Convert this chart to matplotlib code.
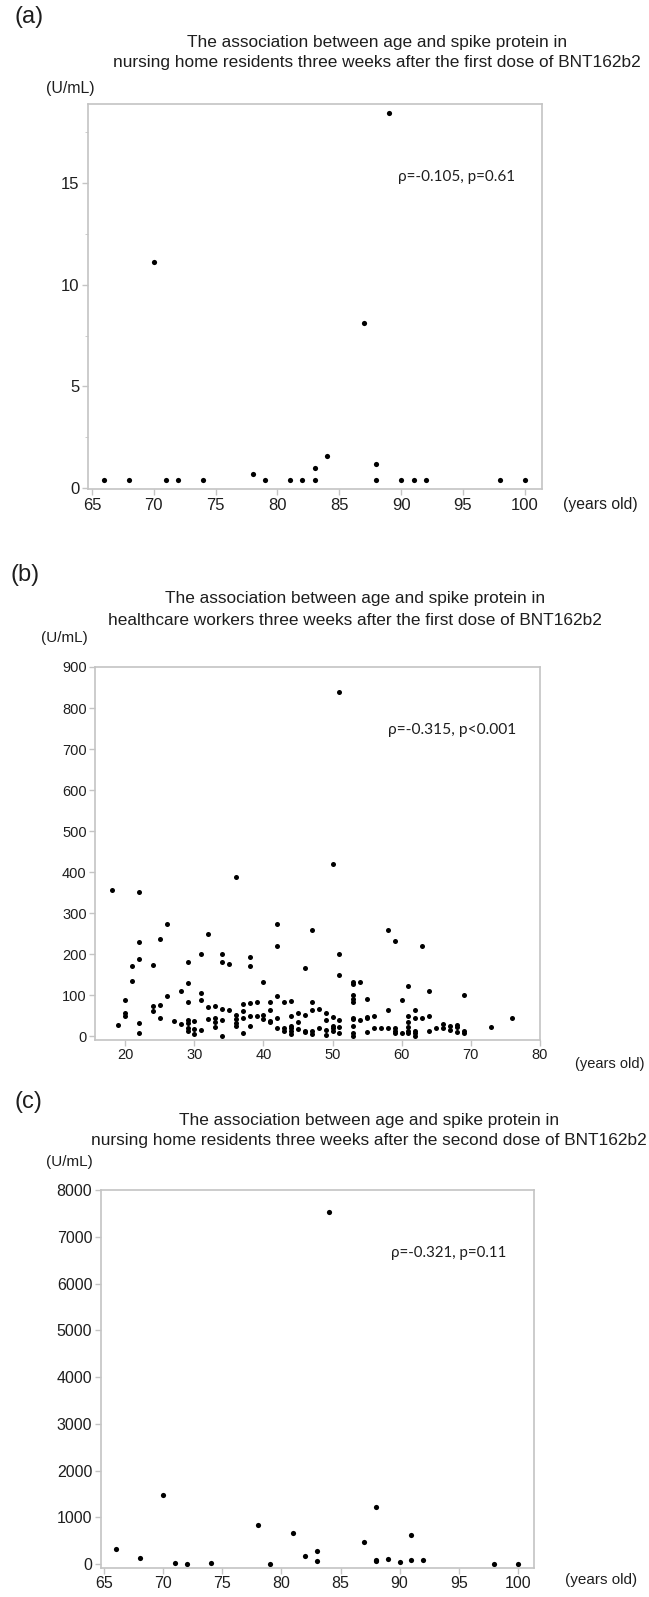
import matplotlib
matplotlib.use("Agg")
import matplotlib.pyplot as plt
from matplotlib.ticker import MultipleLocator

# panel (a): nursing home residents, first dose
age_a = [66, 68, 70, 71, 72, 74, 78, 79, 81, 82, 83, 83, 84, 87, 88, 88, 89,
         90, 91, 92, 98, 100]
spike_a = [0.4, 0.4, 11.13, 0.4, 0.4, 0.4, 0.7, 0.4, 0.4, 0.4, 1.01, 0.4, 1.6,
           8.12, 1.19, 0.4, 18.45, 0.4, 0.4, 0.4, 0.4, 0.4]

# panel (b): healthcare workers, first dose
age_b = [18, 19, 20, 20, 20, 21, 21, 22, 22, 22, 22, 22, 24, 24, 24, 25, 25, 25,
         26, 26, 27, 28, 28, 29, 29, 29, 29, 29, 29, 29, 30, 30, 30,
         31, 31, 31, 31, 32, 32, 32, 33, 33, 33, 33, 34, 34, 34, 34, 34,
         35, 35, 36, 36, 36, 36, 36, 37, 37, 37, 37, 38, 38, 38, 38, 38,
         39, 39, 40, 40, 40, 41, 41, 41, 41, 42, 42, 42, 42, 42, 43, 43, 43,
         44, 44, 44, 44, 44, 44, 45, 45, 45, 46, 46, 46, 46, 47, 47, 47, 47, 47,
         48, 48, 49, 49, 49, 49, 50, 50, 50, 50, 50, 51, 51, 51, 51, 51, 51,
         53, 53, 53, 53, 53, 53, 53, 53, 53, 53, 54, 54, 55, 55, 55, 55,
         56, 56, 57, 58, 58, 58, 59, 59, 59, 59, 60, 60, 61, 61, 61, 61, 61, 61,
         62, 62, 62, 62, 62, 63, 63, 64, 64, 64, 65, 66, 66, 67, 67, 68, 68, 68,
         69, 69, 69, 73, 76]
spike_b = [355, 27, 87, 55, 50, 171, 133, 352, 230, 189, 31, 7, 174, 73, 61,
           236, 75, 43, 274, 97, 36, 110, 29, 181, 129, 84, 39, 31, 19, 13,
           37, 18, 5, 201, 106, 88, 15, 250, 71, 41, 73, 43, 35, 22,
           201, 181, 65, 39, 1, 176, 63, 387, 51, 41, 32, 25, 77, 62, 43, 8,
           193, 171, 80, 50, 25, 84, 49, 131, 51, 41, 82, 64, 37, 33,
           272, 220, 98, 45, 20, 84, 20, 13, 86, 50, 25, 19, 13, 6, 55, 33, 18,
           167, 51, 12, 9, 258, 84, 64, 13, 6, 65, 20, 55, 40, 15, 2,
           419, 47, 25, 19, 13, 839, 199, 149, 40, 21, 7,
           132, 126, 99, 90, 84, 45, 41, 24, 7, 1, 132, 39, 90, 47, 43, 10,
           49, 19, 19, 258, 63, 20, 232, 19, 13, 8, 87, 7, 123, 49, 33, 23, 13, 7,
           63, 43, 13, 7, 1, 219, 43, 110, 50, 13, 19, 29, 20, 25, 15, 27, 21, 10,
           99, 13, 7, 23, 44]

# panel (c): nursing home residents, second dose
age_c = [66, 68, 70, 71, 72, 74, 78, 79, 81, 82, 83, 83, 84, 87, 88, 88, 88, 89,
         90, 91, 91, 92, 98, 100]
spike_c = [317, 127, 1466, 21, 7, 14, 832, 7, 655, 170, 275, 56, 7520, 479,
           1219, 78, 56, 99, 42, 627, 78, 78, 7, 7]

title_top = "The association between age and spike protein in"
title_bottom = [
    "nursing home residents three weeks after the first dose of BNT162b2",
    "healthcare workers three weeks after the first dose of BNT162b2",
    "nursing home residents three weeks after the second dose of BNT162b2",
]
stats = ["\u03c1=-0.105, p=0.61", "\u03c1=-0.315, p<0.001", "\u03c1=-0.321, p=0.11"]
panel_labels = ["(a)", "(b)", "(c)"]

W, H = 649, 1597
ARIAL = ["Liberation Sans", "DejaVu Sans"]
STAT = ["Lato", "DejaVu Sans"]
GREY = "#c4c4c4"
TXT = "#1e1e1e"

fig = plt.figure(figsize=(W / 100, H / 100), dpi=100)


def px(x, y):
    return x / W, 1 - y / H


def make_axes(l, t, r, b, tick_size):
    ax = fig.add_axes([l / W, 1 - b / H, (r - l) / W, (b - t) / H])
    for s in ax.spines.values():
        s.set_color(GREY)
        s.set_linewidth(1.2)
    ax.tick_params(colors=GREY, labelcolor=TXT, length=4, width=1, pad=2,
                   labelsize=tick_size)
    return ax


def style_labels(ax, size):
    for lab in ax.get_xticklabels() + ax.get_yticklabels():
        lab.set_family(ARIAL)
        lab.set_fontsize(size)
        lab.set_color(TXT)


# ---- (a)
ax = make_axes(87.8, 104, 542.4, 489.3, 12)
ax.scatter(age_a, spike_a, s=14, color="black", linewidths=0)
ax.set_xlim(64.67, 101.42)
ax.set_ylim(-0.05, 18.87)
ax.set_xticks(range(65, 101, 5))
ax.set_yticks([0, 5, 10, 15])
ax.yaxis.set_minor_locator(MultipleLocator(2.5))
ax.tick_params(which="minor", colors=GREY, length=2)
style_labels(ax, 12)

# ---- (b)
ax = make_axes(95, 667, 539.7, 1040, 10.5)
ax.scatter(age_b, spike_b, s=13, color="black", linewidths=0)
ax.set_xlim(15.6, 80)
ax.set_ylim(-9.7, 900)
ax.set_xticks(range(20, 81, 10))
ax.set_yticks(range(0, 901, 100))
style_labels(ax, 10.5)

# ---- (c)
ax = make_axes(100.6, 1190, 534, 1568, 11.5)
ax.scatter(age_c, spike_c, s=14, color="black", linewidths=0)
ax.set_xlim(64.69, 101.38)
ax.set_ylim(-85, 8000)
ax.set_xticks(range(65, 101, 5))
ax.set_yticks(range(0, 8001, 1000))
style_labels(ax, 11.5)

# texts
label_pos = [(14, 17), (10, 575), (15, 1102)]
title_x = [377, 355, 369]
title_y = [(43, 63), (598, 620), (1120, 1141)]
unit_pos = [(70, 89), (64, 638), (69, 1162)]
unit_size = [11.4, 11, 11]
years_pos = [(600, 505), (610, 1064), (601, 1580)]
years_size = [11.3, 10.5, 11]
stat_pos = [(398, 177), (388, 730), (391, 1253)]
stat_size = [11, 11.2, 10.8]

for i in range(3):
    fig.text(*px(*label_pos[i]), panel_labels[i], family=ARIAL, fontsize=17,
             va="center", ha="left", color=TXT)
    fig.text(*px(title_x[i], title_y[i][0]), title_top, family=ARIAL,
             fontsize=12.4, va="center", ha="center", color=TXT)
    fig.text(*px(title_x[i], title_y[i][1]), title_bottom[i], family=ARIAL,
             fontsize=12.4, va="center", ha="center", color=TXT)
    fig.text(*px(*unit_pos[i]), "(U/mL)", family=ARIAL, fontsize=unit_size[i],
             va="center", ha="center", color=TXT)
    fig.text(*px(*years_pos[i]), "(years old)", family=ARIAL,
             fontsize=years_size[i], va="center", ha="center", color=TXT)
    fig.text(*px(*stat_pos[i]), stats[i], family=STAT, fontsize=stat_size[i],
             va="center", ha="left", color=TXT)

fig.savefig("out.png", dpi=100)
